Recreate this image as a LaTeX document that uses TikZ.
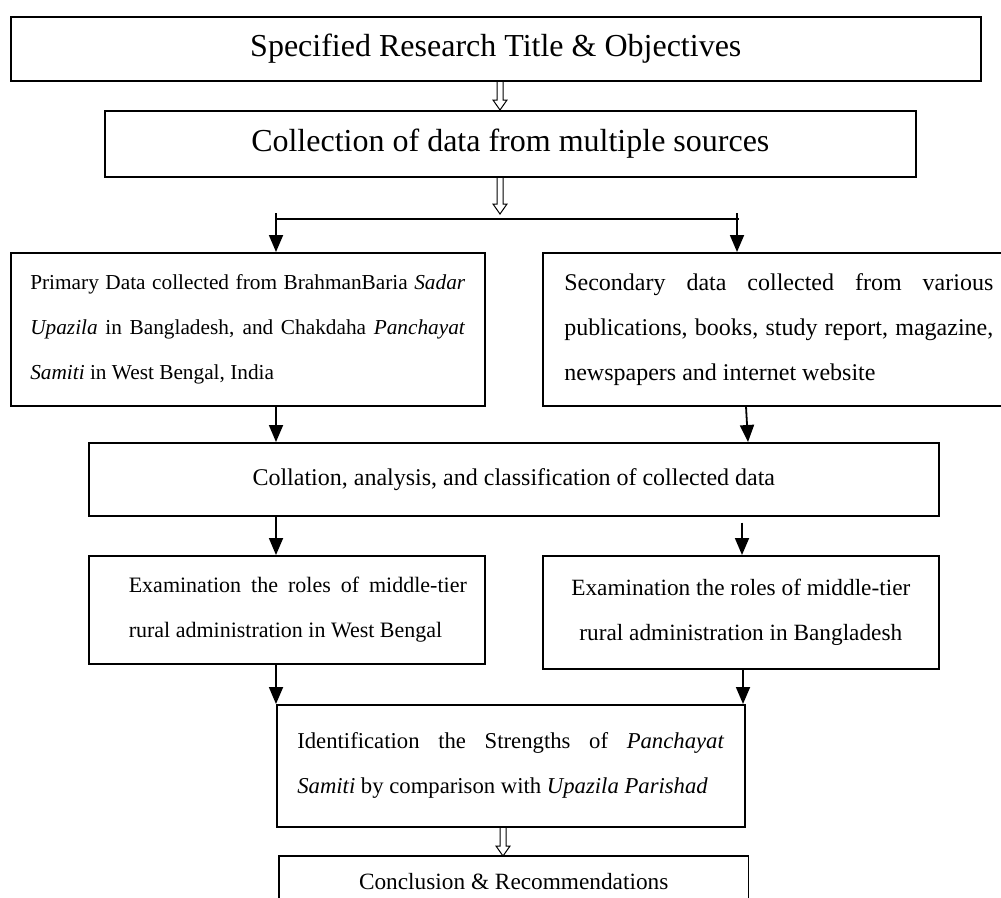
\documentclass[tikz,border=0pt]{standalone}
\usepackage{fontspec}
\setmainfont{Liberation Serif}
\usetikzlibrary{arrows.meta,calc}
\setlength{\parindent}{0pt}
\tikzset{
  box/.style={draw, line width=1.6pt, inner sep=0pt, anchor=north west},
  bigtxt/.style={font=\fontsize{32}{38}\selectfont},
  txtA/.style={font=\fontsize{21.3}{45}\selectfont},
  txtB/.style={font=\fontsize{24}{45}\selectfont},
  txtC/.style={font=\fontsize{22}{45}\selectfont},
  txtD/.style={font=\fontsize{23.3}{45}\selectfont},
  txtE/.style={font=\fontsize{22.7}{45}\selectfont},
  arr/.style={line width=1.8pt, -{Triangle[width=14pt,length=17pt]}},
  plainline/.style={line width=1.8pt},
  hollow/.style={line width=1pt},
}
\newcommand\hollowarr[2]{\draw[hollow] let \p1=(#1), \p2=(#2) in (\x2-3pt,\y1) -- (\x2-3pt,\y2+10pt) -- (\x2-7pt,\y2+10pt) -- (\x2,\y2) -- (\x2+7pt,\y2+10pt) -- (\x2+3pt,\y2+10pt) -- (\x2+3pt,\y1);}
\begin{document}
\begin{tikzpicture}[x=1pt,y=1pt]
\useasboundingbox (0,0) rectangle (1001,-897);
\coordinate (ax) at (500,0);
\coordinate (ax2) at (503,0);
\coordinate (bm) at (500,-214);
\coordinate (bl) at (276,-219);
\coordinate (br) at (737,-219);
\coordinate (x1) at (746,0);
\coordinate (x2) at (748,0);
\coordinate (x3) at (742,0);
\coordinate (x4) at (743,0);

\node[box, bigtxt, minimum width=970pt, minimum height=64pt] (t) at (10,-16) {Specified Research Title \& Objectives};
\node[box, bigtxt, minimum width=811pt, minimum height=66pt] (c) at (104,-110) {Collection of data from multiple sources};
\hollowarr{t.south}{c.north -| ax}
\hollowarr{c.south}{bm}
\draw[plainline] (bl) -- ([xshift=2pt]br);

\node[box, txtA, minimum width=474pt, minimum height=153pt, text width=435pt, align=justify] (p) at (10,-252) {Primary Data collected from BrahmanBaria \textit{Sadar}\linebreak \textit{Upazila} in Bangladesh, and Chakdaha \textit{Panchayat}\linebreak \textit{Samiti} in West Bengal, India};
\node[box, txtB, minimum width=472pt, minimum height=153pt, text width=429pt, align=justify] (s) at (542,-252) {Secondary data collected from various\linebreak publications, books, study report, magazine,\linebreak newspapers and internet website};
\draw[arr] ([yshift=6pt]bl) -- (bl |- p.north);
\draw[arr] ([yshift=6pt]br) -- (br |- s.north);

\node[box, txtB, minimum width=850pt, minimum height=73pt] (k) at (88,-442) {Collation, analysis, and classification of collected data};
\draw[arr] (p.south -| bl) -- (k.north -| bl);
\draw[arr] (s.south -| x1) -- (k.north -| x2);

\node[box, txtC, minimum width=396pt, minimum height=108pt] (w) at (88,-555) {\hspace*{22pt}\parbox{338pt}{Examination the roles of middle-tier\linebreak rural administration in West Bengal}};
\node[box, txtD, minimum width=396pt, minimum height=113pt, align=center] (b) at (542,-555) {Examination the roles of middle-tier\\rural administration in Bangladesh};
\draw[arr] (k.south -| bl) -- (w.north -| bl);
\draw[arr] ($(k.south -| x3)+(0,-6)$) -- (b.north -| x3);

\node[box, txtE, minimum width=468pt, minimum height=122pt, text width=427pt, align=justify] (i) at (276,-704) {Identification the Strengths of \textit{Panchayat}\linebreak \textit{Samiti} by comparison with \textit{Upazila Parishad}};
\draw[arr] (w.south -| bl) -- (i.north -| bl);
\draw[arr] (b.south -| x4) -- (i.north -| x4);

\node[txtD, minimum width=469pt, minimum height=50pt, inner sep=0pt, anchor=north west] (f) at (279,-856) {Conclusion \& Recommendations};
\draw[line width=1.6pt] ([yshift=-40pt]f.south west) -- (f.north west) -- (f.north east) -- ([yshift=-40pt]f.south east);
\hollowarr{i.south}{f.north -| ax2}
\end{tikzpicture}
\end{document}
